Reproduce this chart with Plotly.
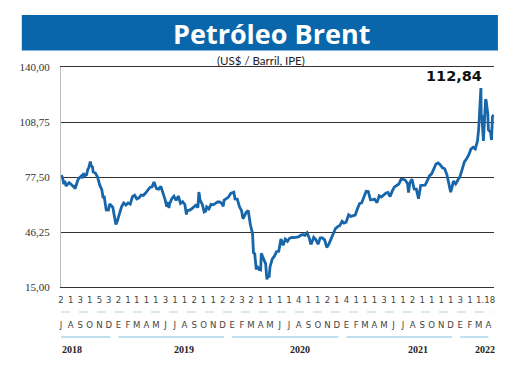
import plotly.graph_objects as go
import pandas as pd

# ---------------- data ----------------
dates = [
    "2018-07-02", "2018-07-06", "2018-07-10", "2018-07-13", "2018-07-17", "2018-07-20", "2018-07-24", "2018-07-27",
    "2018-08-03", "2018-08-08", "2018-08-10", "2018-08-15", "2018-08-17", "2018-08-24", "2018-08-31",
    "2018-09-05", "2018-09-07", "2018-09-12", "2018-09-14", "2018-09-21", "2018-09-25", "2018-09-28",
    "2018-10-03", "2018-10-05", "2018-10-10", "2018-10-12", "2018-10-19", "2018-10-26",
    "2018-11-02", "2018-11-09", "2018-11-13", "2018-11-16", "2018-11-23", "2018-11-30",
    "2018-12-04", "2018-12-07", "2018-12-14", "2018-12-18", "2018-12-21", "2018-12-24", "2018-12-28",
    "2019-01-04", "2019-01-11", "2019-01-18", "2019-01-25",
    "2019-02-01", "2019-02-08", "2019-02-15", "2019-02-22",
    "2019-03-01", "2019-03-08", "2019-03-15", "2019-03-22", "2019-03-29",
    "2019-04-05", "2019-04-12", "2019-04-19", "2019-04-25",
    "2019-05-03", "2019-05-10", "2019-05-17", "2019-05-24", "2019-05-31",
    "2019-06-05", "2019-06-07", "2019-06-12", "2019-06-14", "2019-06-21", "2019-06-28",
    "2019-07-05", "2019-07-12", "2019-07-19", "2019-07-26",
    "2019-08-02", "2019-08-07", "2019-08-09", "2019-08-16", "2019-08-23", "2019-08-30",
    "2019-09-06", "2019-09-13", "2019-09-16", "2019-09-20", "2019-09-27",
    "2019-10-03", "2019-10-08", "2019-10-11", "2019-10-18", "2019-10-25",
    "2019-11-01", "2019-11-08", "2019-11-15", "2019-11-22", "2019-11-29",
    "2019-12-03", "2019-12-06", "2019-12-13", "2019-12-20", "2019-12-27",
    "2020-01-03", "2020-01-06", "2020-01-10", "2020-01-17", "2020-01-24", "2020-01-31",
    "2020-02-04", "2020-02-07", "2020-02-14", "2020-02-21", "2020-02-28",
    "2020-03-06", "2020-03-09", "2020-03-13", "2020-03-18", "2020-03-20", "2020-03-27",
    "2020-04-01", "2020-04-03", "2020-04-09", "2020-04-17", "2020-04-21", "2020-04-24", "2020-04-28",
    "2020-05-01", "2020-05-08", "2020-05-15", "2020-05-22", "2020-05-29",
    "2020-06-05", "2020-06-12", "2020-06-19", "2020-06-26",
    "2020-07-03", "2020-07-10", "2020-07-17", "2020-07-24", "2020-07-31",
    "2020-08-07", "2020-08-14", "2020-08-21", "2020-08-28",
    "2020-09-04", "2020-09-08", "2020-09-11", "2020-09-18", "2020-09-25",
    "2020-10-02", "2020-10-09", "2020-10-16", "2020-10-23", "2020-10-30",
    "2020-11-06", "2020-11-13", "2020-11-20", "2020-11-27",
    "2020-12-04", "2020-12-11", "2020-12-18", "2020-12-24", "2020-12-31",
    "2021-01-08", "2021-01-15", "2021-01-22", "2021-01-29",
    "2021-02-05", "2021-02-12", "2021-02-19", "2021-02-26",
    "2021-03-05", "2021-03-12", "2021-03-19", "2021-03-26",
    "2021-04-01", "2021-04-09", "2021-04-16", "2021-04-23", "2021-04-30",
    "2021-05-07", "2021-05-14", "2021-05-21", "2021-05-28",
    "2021-06-04", "2021-06-11", "2021-06-18", "2021-06-25",
    "2021-07-02", "2021-07-09", "2021-07-16", "2021-07-19", "2021-07-23", "2021-07-30",
    "2021-08-06", "2021-08-13", "2021-08-20", "2021-08-27",
    "2021-09-03", "2021-09-10", "2021-09-17", "2021-09-24",
    "2021-10-01", "2021-10-08", "2021-10-15", "2021-10-22", "2021-10-29",
    "2021-11-05", "2021-11-12", "2021-11-19", "2021-11-26",
    "2021-12-01", "2021-12-03", "2021-12-10", "2021-12-17", "2021-12-24", "2021-12-31",
    "2022-01-07", "2022-01-14", "2022-01-21", "2022-01-28",
    "2022-02-04", "2022-02-11", "2022-02-18", "2022-02-25",
    "2022-03-01", "2022-03-04", "2022-03-08", "2022-03-09", "2022-03-11", "2022-03-16", "2022-03-18",
    "2022-03-23", "2022-03-25", "2022-03-30", "2022-04-01", "2022-04-08", "2022-04-11", "2022-04-14", "2022-04-18",
]
prices = [
    78.6, 77.1, 73.4, 75.3, 72.4, 73.1, 73.8, 74.3,
    73.2, 72.3, 72.8, 70.8, 71.8, 75.8, 77.4,
    78.2, 76.8, 79.7, 78.1, 78.8, 81.9, 82.7,
    86.3, 84.2, 83.1, 80.4, 79.8, 77.6,
    73.0, 70.2, 65.5, 66.8, 58.8, 58.7,
    62.1, 61.7, 60.3, 56.3, 53.8, 50.5, 52.2,
    57.1, 60.5, 62.7, 61.6,
    62.8, 62.1, 66.3, 67.1,
    65.1, 65.7, 67.2, 67.0, 68.4,
    70.3, 71.6, 71.9, 74.6,
    70.9, 70.6, 72.2, 68.7, 64.5,
    60.6, 63.3, 59.9, 62.0, 65.2, 66.6,
    64.2, 66.7, 62.5, 63.5,
    61.9, 56.2, 58.5, 58.6, 59.3, 60.4,
    61.5, 60.2, 69.0, 64.3, 61.9,
    57.7, 58.2, 60.5, 59.4, 62.0,
    61.7, 62.5, 63.3, 63.4, 62.4,
    60.8, 64.4, 65.2, 66.1, 68.2,
    68.6, 68.9, 65.0, 64.9, 60.7, 58.2,
    53.9, 54.5, 57.3, 58.5, 50.5,
    45.3, 34.4, 33.9, 24.9, 27.0, 24.9,
    24.7, 34.1, 31.5, 28.1, 19.3, 21.4, 20.5,
    26.4, 30.9, 32.5, 35.1, 35.3,
    42.3, 38.7, 42.2, 41.0,
    42.8, 43.2, 43.1, 43.3, 43.5,
    44.4, 44.8, 44.4, 45.8,
    42.7, 39.8, 39.8, 43.2, 41.9,
    39.3, 42.9, 42.9, 41.8, 37.5,
    39.5, 42.8, 44.9, 48.2,
    49.3, 50.0, 52.3, 51.3, 51.8,
    56.0, 55.1, 55.4, 55.9,
    59.3, 62.4, 62.9, 66.1,
    69.4, 69.2, 64.5, 64.6,
    64.9, 62.9, 66.8, 66.1, 67.3,
    68.3, 68.7, 66.4, 69.6,
    71.9, 72.7, 73.5, 76.2,
    76.2, 75.6, 73.6, 68.6, 74.1, 76.3,
    70.7, 70.6, 65.2, 72.7,
    72.6, 72.9, 75.3, 78.1,
    79.3, 82.4, 84.9, 85.5, 84.4,
    82.7, 82.2, 78.9, 72.7,
    68.9, 69.9, 75.2, 73.5, 76.1, 77.8,
    81.8, 86.1, 87.9, 90.0,
    93.3, 94.4, 93.5, 97.9,
    105.0, 118.1, 128.0, 111.1, 112.7, 98.0, 107.9,
    121.6, 120.7, 113.5, 104.4, 102.8, 98.5, 111.7, 112.84,
]

y_ticks = [15.00, 46.25, 77.50, 108.75, 140.00]
y_tick_labels = ["15,00", "46,25", "77,50", "108,75", "140,00"]

month_starts = pd.date_range("2018-07-01", "2022-04-01", freq="MS")
month_letters = ["J", "A", "S", "O", "N", "D",
                 "E", "F", "M", "A", "M", "J", "J", "A", "S", "O", "N", "D",
                 "E", "F", "M", "A", "M", "J", "J", "A", "S", "O", "N", "D",
                 "E", "F", "M", "A", "M", "J", "J", "A", "S", "O", "N", "D",
                 "E", "F", "M", "A"]
day_labels = ["2", "1", "3", "1", "5", "3",
              "2", "1", "1", "1", "1", "3", "1", "1", "2", "1", "1", "2",
              "2", "3", "2", "1", "1", "1", "1", "4", "1", "1", "2", "1",
              "4", "1", "1", "1", "3", "1", "1", "2", "1", "1", "1", "1",
              "3", "1", "1", ".18"]
years = ["2018", "2019", "2020", "2021", "2022"]
year_spans = [("2018-07-01", "2018-12-06"), ("2019-01-01", "2019-12-06"),
              ("2020-01-01", "2020-12-06"), ("2021-01-01", "2021-12-06"),
              ("2022-01-01", "2022-04-01")]
year_label_pos = ["2018-08-04", "2019-07-31", "2020-08-04", "2021-08-19", "2022-03-20"]
last_label = "112,84"

# ---------------- figure ----------------
OFF = 8  # page body margin
W, H = 509 - OFF, 369 - OFF
L, R, T, B = 44, 15, 59, 82
pw, ph = W - L - R, H - T - B


def px(xs):
    return (xs - OFF - L) / pw


def py(ys):
    return (H - B - (ys - OFF)) / ph


LINE = "#1766aa"
BAND = "#0a66ab"

fig = go.Figure()
fig.add_trace(go.Scatter(x=pd.to_datetime(dates), y=prices, mode="lines",
                         line=dict(color=LINE, width=2.8), hoverinfo="skip"))

narrow = "Liberation Sans Narrow, DejaVu Sans Condensed, Roboto, sans-serif"

fig.update_layout(
    width=W, height=H, margin=dict(l=L, r=R, t=T, b=B),
    paper_bgcolor="white", plot_bgcolor="white", showlegend=False,
    xaxis=dict(
        type="date", range=["2018-07-01", "2022-04-19"],
        tickvals=month_starts, ticktext=[f"{d}<br><br>{m}" for d, m in zip(day_labels, month_letters)],
        tickfont=dict(family=narrow, size=9.5, color="#444"), tickangle=0,
        ticks="outside", ticklen=4, tickcolor="white",
        showgrid=False, zeroline=False,
        showline=True, mirror=True, linecolor="#333", linewidth=1,
    ),
    yaxis=dict(
        range=[15, 140], tickvals=y_ticks, ticktext=y_tick_labels,
        tickfont=dict(family="Liberation Serif, serif", size=11, color="#333"),
        showgrid=True, gridcolor="#333", gridwidth=1,
        zeroline=False, showline=True, linecolor="#bbbbbb", linewidth=1,
        ticks="", ticklabelstandoff=8,
    ),
)

shapes = [
    dict(type="rect", xref="paper", yref="paper", x0=px(12), x1=px(498), y0=py(50.5), y1=py(15),
         fillcolor=BAND, line=dict(width=0), layer="above"),
    dict(type="line", xref="paper", yref="paper", x0=px(52), x1=px(494), y0=py(312), y1=py(312),
         line=dict(color="#a9d6ec", width=1.2, dash="dash")),
]
for (a, b) in year_spans:
    shapes.append(dict(type="line", xref="x", yref="paper", x0=a, x1=b, y0=py(337), y1=py(337),
                       line=dict(color="#a9d6ec", width=1.5)))
fig.update_layout(shapes=shapes)

ann = [
    dict(text="<b>Petróleo Brent</b>", xref="paper", yref="paper", x=px(266.5), y=py(33),
         showarrow=False, font=dict(family="Open Sans, sans-serif", size=27, color="white"),
         xanchor="center", yanchor="middle"),
    dict(text="(US$ / Barril, IPE)", xref="paper", yref="paper", x=px(256), y=py(60),
         showarrow=False, font=dict(family="Lato, sans-serif", size=11.5, color="#222"),
         xanchor="center", yanchor="middle"),
    dict(text="<b>" + last_label + "</b>", xref="paper", yref="paper", x=px(453), y=py(76),
         showarrow=False, font=dict(family="DejaVu Sans, sans-serif", size=14.5, color="#111"),
         xanchor="center", yanchor="middle"),
]
for yl, xp in zip(years, year_label_pos):
    ann.append(dict(text="<b>" + yl + "</b>", xref="x", yref="paper", x=xp, y=py(349),
                    showarrow=False, font=dict(family="Liberation Sans Narrow, Liberation Serif, serif", size=10, color="#222"),
                    xanchor="center", yanchor="middle"))
fig.update_layout(annotations=ann)

fig.write_html("out.html")
